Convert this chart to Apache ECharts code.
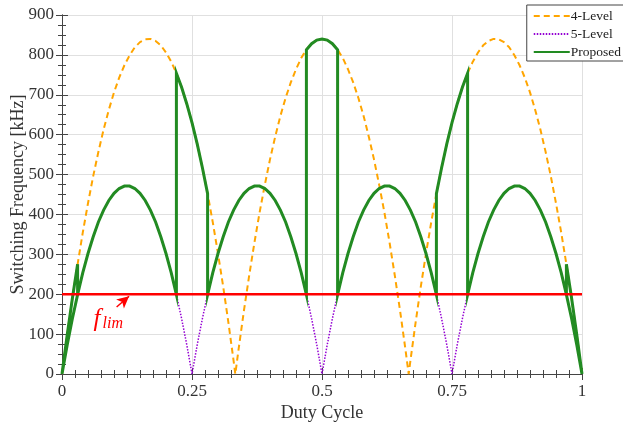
<!DOCTYPE html>
<html>
<head>
<meta charset="utf-8">
<script src="https://cdn.jsdelivr.net/npm/echarts@6/dist/echarts.min.js"></script>
<style>
  html, body { margin: 0; padding: 0; background: #fff; }
  #chart { width: 623px; height: 426px; }
</style>
</head>
<body>
<div id="chart"></div>
<script>
const duty = [0, 0.01, 0.02, 0.03, 0.04, 0.05, 0.06, 0.07, 0.08, 0.09,
  0.1, 0.11, 0.12, 0.13, 0.14, 0.15, 0.16, 0.17, 0.18, 0.19,
  0.2, 0.21, 0.22, 0.23, 0.24, 0.25, 0.26, 0.27, 0.28, 0.29,
  0.3, 0.31, 0.32, 0.33, 0.34, 0.35, 0.36, 0.37, 0.38, 0.39,
  0.4, 0.41, 0.42, 0.43, 0.44, 0.45, 0.46, 0.47, 0.48, 0.49,
  0.5, 0.51, 0.52, 0.53, 0.54, 0.55, 0.56, 0.57, 0.58, 0.59,
  0.6, 0.61, 0.62, 0.63, 0.64, 0.65, 0.66, 0.67, 0.68, 0.69,
  0.7, 0.71, 0.72, 0.73, 0.74, 0.75, 0.76, 0.77, 0.78, 0.79,
  0.8, 0.81, 0.82, 0.83, 0.84, 0.85, 0.86, 0.87, 0.88, 0.89,
  0.9, 0.91, 0.92, 0.93, 0.94, 0.95, 0.96, 0.97, 0.98, 0.99, 1];

// 5-level switching frequency [kHz], one value per duty point
const level5 = [0,
  73, 139, 199, 254, 302, 344, 381, 411, 435, 453, 465, 471, 471, 465, 453, 435, 411, 381, 344, 302, 254, 199, 139, 73, 0,
  73, 139, 199, 254, 302, 344, 381, 411, 435, 453, 465, 471, 471, 465, 453, 435, 411, 381, 344, 302, 254, 199, 139, 73, 0,
  73, 139, 199, 254, 302, 344, 381, 411, 435, 453, 465, 471, 471, 465, 453, 435, 411, 381, 344, 302, 254, 199, 139, 73, 0,
  73, 139, 199, 254, 302, 344, 381, 411, 435, 453, 465, 471, 471, 465, 453, 435, 411, 381, 344, 302, 254, 199, 139, 73, 0];

// 4-level switching frequency [duty, kHz]
const level4 = [
  [0, 0], [0.01, 98], [0.02, 190], [0.03, 275], [0.04, 355], [0.05, 428], [0.06, 496], [0.07, 557], [0.08, 613], [0.09, 662],
  [0.1, 706], [0.11, 743], [0.12, 774], [0.13, 799], [0.14, 819], [0.15, 832], [0.16, 839], [0.17, 840], [0.18, 835], [0.19, 824],
  [0.2, 806], [0.21, 783], [0.22, 754], [0.23, 719], [0.24, 677], [0.25, 630], [0.26, 577], [0.27, 517], [0.28, 452], [0.29, 380],
  [0.3, 302], [0.31, 219], [0.32, 129], [0.33, 33], [0.3333, 0], [0.34, 66], [0.35, 160], [0.36, 247], [0.37, 329], [0.38, 405],
  [0.39, 474], [0.4, 538], [0.41, 595], [0.42, 647], [0.43, 692], [0.44, 731], [0.45, 764], [0.46, 792], [0.47, 813], [0.48, 828],
  [0.49, 837], [0.5, 840], [0.51, 837], [0.52, 828], [0.53, 813], [0.54, 792], [0.55, 764], [0.56, 731], [0.57, 692], [0.58, 647],
  [0.59, 595], [0.6, 538], [0.61, 474], [0.62, 405], [0.63, 329], [0.64, 247], [0.65, 160], [0.66, 66], [0.6667, 0], [0.67, 33],
  [0.68, 129], [0.69, 219], [0.7, 302], [0.71, 380], [0.72, 452], [0.73, 517], [0.74, 577], [0.75, 630], [0.76, 677], [0.77, 719],
  [0.78, 754], [0.79, 783], [0.8, 806], [0.81, 824], [0.82, 835], [0.83, 840], [0.84, 839], [0.85, 832], [0.86, 819], [0.87, 799],
  [0.88, 774], [0.89, 743], [0.9, 706], [0.91, 662], [0.92, 613], [0.93, 557], [0.94, 496], [0.95, 428], [0.96, 355], [0.97, 275],
  [0.98, 190], [0.99, 98], [1, 0]];

// proposed scheme path [duty, kHz], in drawing order
const proposed = [
  [0.03, 199], [0.02, 139], [0.01, 73], [0, 0], [0.01, 98], [0.02, 190], [0.03, 275], [0.03, 199],
  [0.04, 254], [0.05, 302], [0.06, 344], [0.07, 381], [0.08, 411], [0.09, 435], [0.1, 453], [0.11, 465], [0.12, 471],
  [0.13, 471], [0.14, 465], [0.15, 453], [0.16, 435], [0.17, 411], [0.18, 381], [0.19, 344], [0.2, 302], [0.21, 254], [0.22, 199],
  [0.22, 754], [0.23, 719], [0.24, 677], [0.25, 630], [0.26, 577], [0.27, 517], [0.28, 452], [0.28, 199],
  [0.29, 254], [0.3, 302], [0.31, 344], [0.32, 381], [0.33, 411], [0.34, 435], [0.35, 453], [0.36, 465], [0.37, 471],
  [0.38, 471], [0.39, 465], [0.4, 453], [0.41, 435], [0.42, 411], [0.43, 381], [0.44, 344], [0.45, 302], [0.46, 254], [0.47, 199],
  [0.47, 813], [0.48, 828], [0.49, 837], [0.5, 840], [0.51, 837], [0.52, 828], [0.53, 813], [0.53, 199],
  [0.54, 254], [0.55, 302], [0.56, 344], [0.57, 381], [0.58, 411], [0.59, 435], [0.6, 453], [0.61, 465], [0.62, 471],
  [0.63, 471], [0.64, 465], [0.65, 453], [0.66, 435], [0.67, 411], [0.68, 381], [0.69, 344], [0.7, 302], [0.71, 254], [0.72, 199],
  [0.72, 452], [0.73, 517], [0.74, 577], [0.75, 630], [0.76, 677], [0.77, 719], [0.78, 754], [0.78, 199],
  [0.79, 254], [0.8, 302], [0.81, 344], [0.82, 381], [0.83, 411], [0.84, 435], [0.85, 453], [0.86, 465], [0.87, 471],
  [0.88, 471], [0.89, 465], [0.9, 453], [0.91, 435], [0.92, 411], [0.93, 381], [0.94, 344], [0.95, 302], [0.96, 254], [0.97, 199],
  [0.97, 275], [0.98, 190], [0.99, 98], [1, 0], [0.99, 73], [0.98, 139], [0.97, 199]];

const fLim = 200;
const xTicks = [0, 0.25, 0.5, 0.75, 1];
const yMax = 900;

const font = '"Liberation Serif", "Times New Roman", serif';
const chart = echarts.init(document.getElementById('chart'), null, { renderer: 'canvas' });

const baseX = {
  type: 'value', min: 0, max: 1, interval: 0.25,
  axisLine: { show: true, lineStyle: { color: '#444', width: 1 } },
  axisTick: { show: true, inside: true, length: 6, lineStyle: { color: '#444' } },
  minorTick: { show: true, splitNumber: 10, length: 4, lineStyle: { color: '#444' } }
};
const baseY = {
  type: 'value', min: 0, max: yMax, interval: 100,
  axisLine: { show: true, lineStyle: { color: '#444', width: 1 } },
  axisTick: { show: true, inside: true, length: 6, lineStyle: { color: '#444' } },
  minorTick: { show: true, splitNumber: 4, length: 4, lineStyle: { color: '#444' } }
};

const option = {
  animation: false,
  backgroundColor: '#fff',
  textStyle: { fontFamily: font },
  grid: { left: 62, right: 41, top: 15, bottom: 52, containLabel: false, outerBoundsMode: 'none' },
  legend: {
    data: ['4-Level', '5-Level', 'Proposed'],
    orient: 'vertical',
    right: -12,
    top: 5,
    itemWidth: 36,
    itemHeight: 12,
    itemGap: 4,
    padding: [4, 14, 2, 6],
    backgroundColor: '#fff',
    borderColor: '#444',
    borderWidth: 1,
    borderRadius: 0,
    itemStyle: { opacity: 0 },
    textStyle: { fontFamily: font, fontSize: 13.5, lineHeight: 14, color: '#222', padding: [0, 0, 0, -4] }
  },
  xAxis: [
    Object.assign({}, baseX, {
      position: 'bottom',
      name: 'Duty Cycle', nameLocation: 'middle', nameGap: 30, nameMoveOverlap: false,
      nameTextStyle: { fontFamily: font, fontSize: 18, color: '#333' },
      axisLabel: {
        fontFamily: font, fontSize: 17, color: '#333', margin: 9,
        formatter: v => (xTicks.includes(v) ? String(v) : '')
      },
      splitLine: { show: true, lineStyle: { color: '#e0e0e0', width: 1 } }
    }),
    Object.assign({}, baseX, { position: 'top', axisLabel: { show: false }, splitLine: { show: false } })
  ],
  yAxis: [
    Object.assign({}, baseY, {
      position: 'left',
      name: 'Switching Frequency [kHz]', nameLocation: 'middle', nameGap: 35, nameMoveOverlap: false,
      nameTextStyle: { fontFamily: font, fontSize: 18, color: '#333' },
      axisLabel: { fontFamily: font, fontSize: 17, color: '#333', margin: 8 },
      splitLine: { show: true, lineStyle: { color: '#e0e0e0', width: 1 } }
    }),
    Object.assign({}, baseY, { position: 'right', axisLabel: { show: false }, splitLine: { show: false } })
  ],
  series: [
    {
      name: '4-Level', type: 'line', symbol: 'none', z: 2,
      data: level4,
      lineStyle: { color: '#FFA500', width: 2, type: [6, 4] },
      itemStyle: { color: '#FFA500' }
    },
    {
      name: '5-Level', type: 'line', symbol: 'none', z: 3,
      data: duty.map((d, i) => [d, level5[i]]),
      lineStyle: { color: '#9400D3', width: 1.5, type: [1.5, 1.5] },
      itemStyle: { color: '#9400D3' }
    },
    {
      name: 'Proposed', type: 'line', symbol: 'none', z: 4,
      data: proposed,
      lineStyle: { color: '#228B22', width: 3, join: 'miter' },
      itemStyle: { color: '#228B22' }
    },
    {
      name: 'limit', type: 'line', symbol: 'none', z: 5,
      data: [[0, fLim], [1, fLim]],
      lineStyle: { color: '#FF0000', width: 2.5 },
      markLine: {
        silent: true, animation: false,
        symbol: ['none', 'arrow'], symbolSize: [9, 12],
        lineStyle: { color: '#FF0000', width: 1.5, type: 'solid' },
        label: { show: false },
        data: [[{ coord: [0.105, 168] }, { coord: [0.129, 195] }]]
      },
      markPoint: {
        silent: true, symbol: 'circle', symbolSize: 0,
        label: {
          show: true, position: 'inside',
          formatter: '{f|f}{s|lim}',
          rich: {
            f: { fontFamily: font, fontStyle: 'italic', fontSize: 25, color: '#FF0000' },
            s: { fontFamily: font, fontStyle: 'italic', fontSize: 16, color: '#FF0000', verticalAlign: 'bottom', padding: [9, 0, 0, 2] }
          }
        },
        data: [{ coord: [0.089, 138] }]
      }
    }
  ]
};

chart.setOption(option);
</script>
</body>
</html>
